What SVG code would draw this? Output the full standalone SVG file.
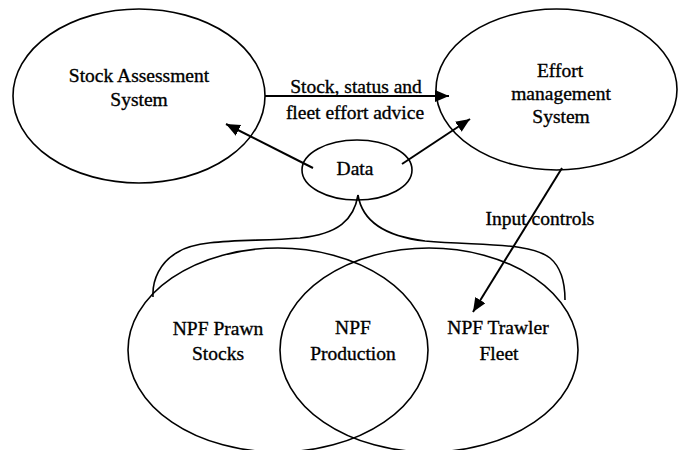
<svg xmlns="http://www.w3.org/2000/svg" width="678" height="450" viewBox="0 0 678 450">
  <style>
    .shape { fill: none; stroke: #000; stroke-width: 1.6; }
    .link { fill: none; stroke: #000; stroke-width: 2; }
    .lbl { font-family: "Liberation Serif", "Times New Roman", serif; font-size: 19.5px; fill: #000; stroke: #000; stroke-width: 0.35; text-anchor: middle; }
  </style>
  <defs>
    <marker id="head" markerUnits="userSpaceOnUse" markerWidth="16" markerHeight="14" refX="14" refY="6" orient="auto">
      <path d="M0,0 L14,6 L0,12 Z" fill="#000"/>
    </marker>
  </defs>
  <rect width="678" height="450" fill="#fff"/>

  <!-- connectors -->
  <g id="connectors">
    <line class="link" x1="265" y1="96" x2="449" y2="96" marker-end="url(#head)"/>
    <line class="link" x1="313" y1="168" x2="226" y2="124" marker-end="url(#head)"/>
    <line class="link" x1="402" y1="164" x2="470" y2="119" marker-end="url(#head)"/>
    <line class="link" x1="562" y1="168" x2="473" y2="312" marker-end="url(#head)"/>
    <!-- brace from Data down over the two stock/fleet ovals -->
    <path class="shape" d="M358,195 C354,220 338,234 300,238 C250,242 200,238 178,252 C160,262 152,280 153,297"/>
    <path class="shape" d="M358,195 C362,220 382,236 425,241 C480,246 530,242 550,258 C562,268 565,285 565,300"/>
    <text class="lbl" x="356" y="93">Stock, status and</text>
    <text class="lbl" x="355" y="119">fleet effort advice</text>
    <text class="lbl" x="540" y="225">Input controls</text>
  </g>

  <g id="stock-assessment">
    <ellipse class="shape" cx="139" cy="96" rx="126" ry="87"/>
    <text class="lbl" x="139" y="82">Stock Assessment</text>
    <text class="lbl" x="139" y="106">System</text>
  </g>

  <g id="effort-management">
    <ellipse class="shape" cx="556.5" cy="89.5" rx="120.5" ry="80.5"/>
    <text class="lbl" x="560" y="77">Effort</text>
    <text class="lbl" x="561" y="100">management</text>
    <text class="lbl" x="561" y="123">System</text>
  </g>

  <g id="data">
    <ellipse class="shape" cx="357" cy="170" rx="55" ry="30"/>
    <text class="lbl" x="355" y="175">Data</text>
  </g>

  <g id="prawn-stocks">
    <ellipse class="shape" cx="278" cy="350" rx="150" ry="102"/>
    <text class="lbl" x="218" y="335">NPF Prawn</text>
    <text class="lbl" x="218" y="360">Stocks</text>
  </g>

  <g id="trawler-fleet">
    <ellipse class="shape" cx="429" cy="350" rx="149" ry="102"/>
    <text class="lbl" x="498" y="334">NPF Trawler</text>
    <text class="lbl" x="499" y="360">Fleet</text>
  </g>

  <g id="production">
    <text class="lbl" x="353" y="334">NPF</text>
    <text class="lbl" x="353" y="360">Production</text>
  </g>
</svg>
